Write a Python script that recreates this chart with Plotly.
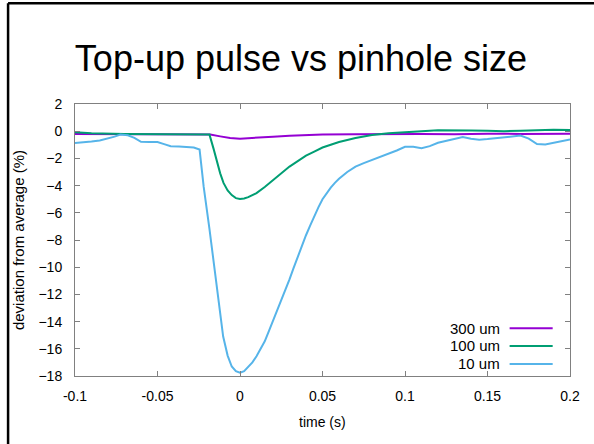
import plotly.graph_objects as go

# ---- data ----
x_300 = [-0.1, -0.08, -0.06, -0.04, -0.02, -0.018, -0.012, -0.006, 0, 0.006, 0.012, 0.02,
         0.03, 0.04, 0.05, 0.07, 0.09, 0.11, 0.13, 0.15, 0.17, 0.19, 0.2]
y_300 = [-0.2, -0.2, -0.22, -0.22, -0.23, -0.25, -0.38, -0.5, -0.55, -0.52, -0.47, -0.4,
         -0.33, -0.28, -0.25, -0.22, -0.2, -0.2, -0.22, -0.18, -0.2, -0.18, -0.18]

x_100 = [-0.1, -0.09, -0.07, -0.05, -0.03, -0.0185, -0.016, -0.014, -0.012, -0.010, -0.0075,
         -0.005, -0.0025, 0, 0.0025, 0.005, 0.01, 0.015, 0.02, 0.025, 0.03, 0.035, 0.04,
         0.045, 0.05, 0.055, 0.06, 0.07, 0.08, 0.09, 0.1, 0.11, 0.12, 0.13, 0.14, 0.15,
         0.16, 0.17, 0.18, 0.19, 0.2]
y_100 = [-0.07, -0.15, -0.2, -0.2, -0.22, -0.25, -1.3, -2.3, -3.1, -3.8, -4.35,
         -4.7, -4.92, -4.99, -4.95, -4.85, -4.55, -4.1, -3.6, -3.05, -2.6, -2.2, -1.8,
         -1.5, -1.2, -1.0, -0.8, -0.5, -0.28, -0.15, -0.05, 0.0, 0.07, 0.08, 0.05, 0.03,
         0.0, 0.03, 0.07, 0.1, 0.08]

x_10 = [-0.1, -0.095, -0.09, -0.085, -0.08, -0.076, -0.0725, -0.068, -0.064, -0.06, -0.055,
        -0.05, -0.046, -0.042, -0.037, -0.032, -0.028, -0.0245, -0.022, -0.0185, -0.0152,
        -0.0125, -0.0102, -0.0075, -0.005, -0.0025, 0, 0.0025, 0.005, 0.0075, 0.01, 0.0125,
        0.015, 0.0175, 0.02, 0.0225, 0.025, 0.0275, 0.03, 0.0325, 0.035, 0.0375, 0.04,
        0.0425, 0.045, 0.0475, 0.05, 0.0525, 0.055, 0.0575, 0.06, 0.065, 0.07, 0.075, 0.08,
        0.085, 0.09, 0.095, 0.1, 0.105, 0.11, 0.115, 0.12, 0.125, 0.13, 0.135, 0.14,
        0.145, 0.15, 0.155, 0.16, 0.165, 0.17, 0.175, 0.18, 0.185, 0.19, 0.195, 0.2]
y_10 = [-0.86, -0.82, -0.76, -0.68, -0.54, -0.4, -0.25, -0.3, -0.49, -0.78, -0.8,
        -0.8, -0.95, -1.1, -1.12, -1.15, -1.2, -1.35, -4.1, -7.2, -10.2,
        -12.9, -15.1, -16.5, -17.3, -17.65, -17.75, -17.65, -17.35, -17.0, -16.55, -16.05,
        -15.45, -14.7, -13.95, -13.2, -12.45, -11.7, -10.9, -10.05, -9.2, -8.4, -7.65,
        -6.95, -6.25, -5.6, -5.0, -4.55, -4.15, -3.8, -3.5, -3.0, -2.6, -2.35, -2.12,
        -1.92, -1.68, -1.42, -1.15, -1.15, -1.25, -1.1, -0.85, -0.7, -0.55, -0.42, -0.55,
        -0.62, -0.58, -0.52, -0.48, -0.4, -0.32, -0.55, -0.95, -0.98, -0.86, -0.75, -0.6]

series_names = ["300 um", "100 um", "10 um"]
series_colors = ["#9400d3", "#009e73", "#56b4e9"]
x_ticks = [-0.1, -0.05, 0, 0.05, 0.1, 0.15, 0.2]
x_ticktext = ["-0.1", "-0.05", "0", "0.05", "0.1", "0.15", "0.2"]
y_ticks = [2, 0, -2, -4, -6, -8, -10, -12, -14, -16, -18]

FONT = "Liberation Sans, Arial, sans-serif"

fig = go.Figure()
for xs, ys, name, col in zip([x_300, x_100, x_10], [y_300, y_100, y_10], series_names, series_colors):
    fig.add_trace(go.Scatter(x=xs, y=ys, mode="lines", name=name,
                             line=dict(color=col, width=2), showlegend=False))

axis_common = dict(showgrid=False, zeroline=False, showline=True, linecolor="#808080",
                   linewidth=1, mirror="allticks", ticks="inside", ticklen=5,
                   tickcolor="#808080", tickfont=dict(family=FONT, size=14, color="#000000"))

fig.update_xaxes(range=[-0.1, 0.2], tickvals=x_ticks, ticktext=x_ticktext,
                 ticklabelstandoff=7, **axis_common)
fig.update_yaxes(range=[-18, 2], tickvals=y_ticks, ticklabelstandoff=9, **axis_common)

# manual gnuplot-style legend (text right, key line to the right)
legend_y = [0.1757, 0.1105, 0.0442]
shapes = []
annotations = []
for name, col, ly in zip(series_names, series_colors, legend_y):
    annotations.append(dict(xref="paper", yref="paper", x=0.862, y=ly, text=name,
                            showarrow=False, xanchor="right", yanchor="middle",
                            font=dict(family=FONT, size=15, color="#000000")))
    shapes.append(dict(type="line", xref="paper", yref="paper", x0=0.878, x1=0.965,
                       y0=ly, y1=ly, line=dict(color=col, width=2)))

# slide frame (left and top edges)
shapes.append(dict(type="line", xref="paper", yref="paper", x0=-0.1352, x1=-0.1352,
                   y0=1.3702, y1=-0.3, line=dict(color="#000000", width=2.5)))
shapes.append(dict(type="line", xref="paper", yref="paper", x0=-0.1352, x1=1.1,
                   y0=1.3702, y1=1.3702, line=dict(color="#000000", width=2.5)))

annotations.append(dict(xref="paper", yref="paper", x=-0.115, y=0.5,
                        text="deviation from average (%)", textangle=-90, showarrow=False,
                        xanchor="center", yanchor="middle",
                        font=dict(family=FONT, size=15, color="#000000")))
annotations.append(dict(xref="paper", yref="paper", x=0.5, y=-0.169, text="time (s)",
                        showarrow=False, xanchor="center", yanchor="middle",
                        font=dict(family=FONT, size=14, color="#000000")))

fig.update_layout(
    width=594, height=444,
    margin=dict(l=75, r=24, t=104, b=68),
    paper_bgcolor="white", plot_bgcolor="white",
    title=dict(text="Top-up pulse vs pinhole size", x=301/594, xanchor="center",
               y=1 - 58/444, yanchor="middle", yref="container",
               font=dict(family=FONT, size=36, color="#000000")),
    shapes=shapes, annotations=annotations, showlegend=False,
)

fig.write_html("out.html", config={"displayModeBar": False},
               post_script="document.body.style.margin='0';document.body.style.padding='0';")
